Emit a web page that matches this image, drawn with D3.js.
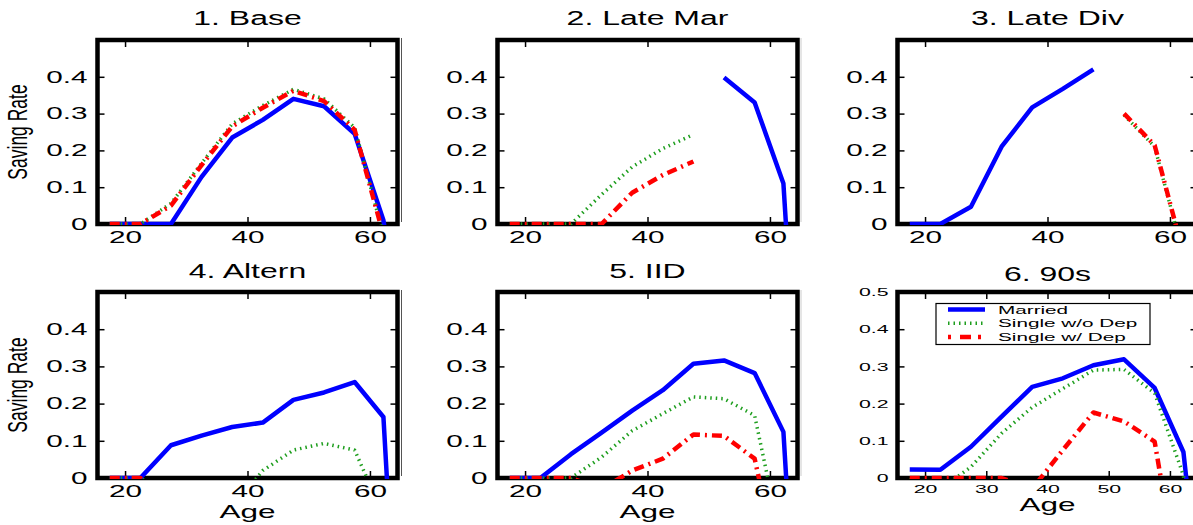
<!DOCTYPE html>
<html lang="en">
<head>
    <meta charset="UTF-8">
    <title>Saving Rate by Age</title>
    <script src="https://d3js.org/d3.v7.min.js"></script>
    <style>
        body { margin: 0; background: #fff; }
        text { font-family: "Liberation Sans", Arial, sans-serif; fill: #000; }
    </style>
</head>
<body>
<svg width="1193" height="525"></svg>
<script>
    // ages of the 5-year groups (last two points: retirement drop)
    const ages = [17.5, 22.5, 27.5, 32.5, 37.5, 42.5, 47.5, 52.5, 57.5, 62.2, 62.8];

    const titles = ["1. Base", "2. Late Mar", "3. Late Div", "4. Altern", "5. IID", "6. 90s"];
    const seriesNames = ["Married", "Single w/o Dep", "Single w/ Dep"];

    // values (values below 0 are clipped by the axes, as in the original)
    const baseMarried = [0, 0, 0, 0.128, 0.235, 0.283, 0.34, 0.32, 0.245, 0.01, -0.05];
    const baseNoDep   = [0, 0, 0.056, 0.165, 0.272, 0.322, 0.366, 0.34, 0.262, -0.03, -0.1];
    const baseDep     = [0, 0, 0.05, 0.16, 0.265, 0.316, 0.362, 0.334, 0.256, -0.03, -0.1];

    const lateMarMarried = [null, null, null, null, null, null, null, 0.398, 0.33, 0.11, -0.05];
    const lateMarNoDep   = [0, 0, 0, 0.08, 0.155, 0.205, 0.243, null, null, null, null];
    const lateMarDep     = [0, 0, 0, 0, 0.085, 0.133, 0.17, null, null, null, null];

    const lateDivMarried = [0, 0, 0.047, 0.21, 0.317, 0.367, 0.42, null, null, null, null];
    const lateDivNoDep   = [null, null, null, null, null, null, null, 0.296, 0.21, -0.085, -0.15];
    const lateDivDep     = [null, null, null, null, null, null, null, 0.3, 0.214, -0.08, -0.15];

    const alternMarried = [0, 0, 0.088, 0.114, 0.137, 0.149, 0.21, 0.23, 0.258, 0.164, -0.01];
    const alternNoDep   = [0, 0, -0.05, -0.1, -0.08, 0.02, 0.075, 0.093, 0.075, -0.1, -0.2];
    const alternDep     = [0, 0, -0.1, -0.3, -0.3, -0.3, -0.3, -0.3, -0.3, -0.3, -0.3];

    const iidMarried = [0, 0, 0.064, 0.122, 0.181, 0.236, 0.307, 0.316, 0.282, 0.124, -0.04];
    const iidNoDep   = [0, 0, 0, 0.056, 0.127, 0.173, 0.218, 0.213, 0.168, -0.2, -0.3];
    const iidDep     = [0, 0, 0, -0.03, 0.02, 0.052, 0.117, 0.113, 0.052, -0.3, -0.4];

    const ninetiesMarried = [0.023, 0.022, 0.084, 0.165, 0.245, 0.268, 0.303, 0.319, 0.242, 0.07, -0.02];
    const ninetiesNoDep   = [0, -0.03, 0.03, 0.12, 0.19, 0.24, 0.29, 0.292, 0.228, 0.007, -0.1];
    const ninetiesDep     = [0, 0, 0, 0, -0.029, 0.075, 0.176, 0.152, 0.098, -0.36, -0.4];

    const xTicksWide = [20, 40, 60];
    const xTicksFine = [20, 30, 40, 50, 60];
    const yTicksShort = [0, 0.1, 0.2, 0.3, 0.4];
    const yTicksFull = [0, 0.1, 0.2, 0.3, 0.4, 0.5];

    const panels = [
        [baseMarried, baseNoDep, baseDep],
        [lateMarMarried, lateMarNoDep, lateMarDep],
        [lateDivMarried, lateDivNoDep, lateDivDep],
        [alternMarried, alternNoDep, alternDep],
        [iidMarried, iidNoDep, iidDep],
        [ninetiesMarried, ninetiesNoDep, ninetiesDep]
    ];

    const styles = [
        {color: "#0000ff", width: 4.5, dash: null},
        {color: "#1e9e1e", width: 3.5, dash: "1.5,4"},
        {color: "#ff0000", width: 4.5, dash: "10,5,2,5"}
    ];

    const svg = d3.select("svg");
    const W = 300;
    const lefts = [97.5, 497.5, 897.5];
    const rows = [{top: 40, bottom: 224}, {top: 292, bottom: 478}];

    // the picture is stretched sideways, so text is too
    function stretched(sel, sx) {
        return sel.attr("transform", `scale(${sx},1)`);
    }

    // faint separators left of panels 2/3 and 5/6
    [[401.5, "#555"], [801, "#ccc"]].forEach(([x, c]) => {
        rows.forEach(r => {
            svg.append("line")
                .attr("x1", x).attr("x2", x)
                .attr("y1", r.top - 2).attr("y2", r.bottom - 2)
                .attr("stroke", c).attr("stroke-width", 1);
        });
    });

    panels.forEach((series, i) => {
        const col = i % 3, row = Math.floor(i / 3);
        const last = i === 5;
        const T = rows[row].top, h = rows[row].bottom - T;
        const g = svg.append("g").attr("transform", `translate(${lefts[col]},${T})`);

        const x = d3.scaleLinear().domain([15.5, 64.5]).range([0, W]);
        const y = d3.scaleLinear().domain([0, 0.5]).range([h, 0]);

        const xTicks = last ? xTicksFine : xTicksWide;
        const yTicks = last ? yTicksFull : yTicksShort;
        const tickFont = last ? 11.5 : 16.5;
        const tickSx = last ? 1.85 : 1.8;

        g.append("rect")
            .attr("width", W).attr("height", h)
            .attr("fill", "none").attr("stroke", "#000").attr("stroke-width", 4.5);

        // bottom axis with labels
        const xb = g.append("g").attr("transform", `translate(0,${h})`)
            .call(d3.axisBottom(x).tickValues(xTicks).tickSizeInner(-7).tickSizeOuter(0)
                .tickPadding(last ? 6.8 : (row === 0 ? 7.3 : 7.5)));
        // top axis, ticks only
        g.append("g")
            .call(d3.axisTop(x).tickValues(xTicks).tickSizeInner(-7).tickSizeOuter(0).tickFormat(""));
        // left axis with labels
        const pad = last ? 9 : 10;
        const yl = g.append("g")
            .call(d3.axisLeft(y).tickValues(yTicks).tickSizeInner(-7).tickSizeOuter(0)
                .tickPadding(pad).tickFormat(d => d === 0 ? "0" : d.toFixed(1)));
        g.append("g").attr("transform", `translate(${W},0)`)
            .call(d3.axisRight(y).tickValues(yTicks).tickSizeInner(-7).tickSizeOuter(0).tickFormat(""));

        g.selectAll(".domain").remove();
        g.selectAll(".tick line").attr("stroke", "#000").attr("stroke-width", 1.5);

        xb.selectAll("text").style("font-size", tickFont + "px").attr("font-family", null);
        stretched(xb.selectAll("text"), tickSx);
        yl.selectAll("text").style("font-size", tickFont + "px").attr("font-family", null)
            .attr("x", -pad / tickSx);
        stretched(yl.selectAll("text"), tickSx);

        // clip to the axes box (a little below so zero lines sit on the axis)
        const clipId = "clip" + i;
        g.append("clipPath").attr("id", clipId)
            .append("rect").attr("x", 0).attr("y", -5).attr("width", W).attr("height", h + 6);

        const line = d3.line()
            .defined(d => d[1] !== null)
            .x(d => x(d[0]))
            .y(d => y(d[1]));

        series.forEach((vals, s) => {
            const st = styles[s];
            g.append("path")
                .datum(ages.map((a, k) => [a, vals[k]]))
                .attr("clip-path", `url(#${clipId})`)
                .attr("fill", "none")
                .attr("stroke", st.color)
                .attr("stroke-width", st.width)
                .attr("stroke-dasharray", st.dash)
                .attr("stroke-linejoin", "round")
                .attr("d", line);
        });

        // title
        const tOff = last ? 11 : (row === 0 ? 15 : 14);
        g.append("text")
            .attr("transform", `translate(${W / 2},${-tOff}) scale(1.6,1)`)
            .attr("text-anchor", "middle")
            .style("font-size", "20px")
            .text(titles[i]);

        // y label on the left column
        if (col === 0) {
            g.append("text")
                .attr("transform", `translate(${27 - lefts[0]},${h / 2}) scale(1.55,1) rotate(-90)`)
                .attr("text-anchor", "middle")
                .style("font-size", "17.5px")
                .text("Saving Rate");
        }

        // x label on the bottom row
        if (row === 1) {
            g.append("text")
                .attr("transform", `translate(${W / 2},${h + (last ? 33 : 39.5)}) scale(1.75,1)`)
                .attr("text-anchor", "middle")
                .style("font-size", "18px")
                .text("Age");
        }

        // legend in the last panel
        if (last) {
            const lg = svg.append("g").attr("transform", "translate(936,303.5)");
            lg.append("rect")
                .attr("width", 214).attr("height", 41)
                .attr("fill", "#fff").attr("stroke", "#000").attr("stroke-width", 1.2);
            seriesNames.forEach((name, s) => {
                const st = styles[s];
                const yy = 6 + s * 13.7;
                lg.append("line")
                    .attr("x1", 12).attr("x2", 49)
                    .attr("y1", yy).attr("y2", yy)
                    .attr("stroke", st.color)
                    .attr("stroke-width", st.width)
                    .attr("stroke-dasharray", s === 2 ? "3,9,11,7" : st.dash);
                lg.append("text")
                    .attr("transform", `translate(62,${yy + 4}) scale(1.8,1)`)
                    .style("font-size", "11.5px")
                    .text(name);
            });
        }
    });
</script>
</body>
</html>
